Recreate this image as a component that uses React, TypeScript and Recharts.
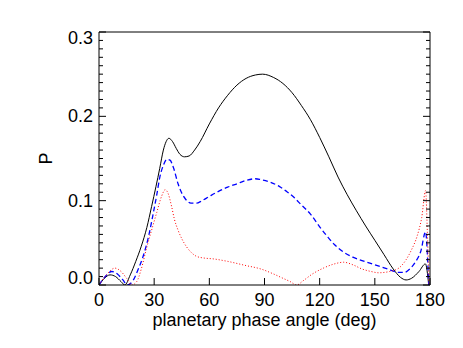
import { LineChart, Line, XAxis, YAxis } from "recharts";

// phase angle (deg) and polarisation P
const blackAngle = [0, 3, 6, 9, 12, 14, 17, 20, 23, 26, 28.6, 31, 33, 35, 36.5, 38, 40, 42, 44, 46.5, 49, 52, 55, 60, 65, 70, 75, 80, 85, 89, 95, 100, 105, 110, 115, 120, 125, 130, 135, 140, 145, 150, 155, 160, 164, 167, 170, 174, 177.5, 179.3];
const blackP = [0, 0.008, 0.012, 0.01, 0.004, 0, 0.012, 0.028, 0.046, 0.068, 0.093, 0.117, 0.138, 0.16, 0.17, 0.174, 0.17, 0.162, 0.155, 0.152, 0.153, 0.16, 0.17, 0.191, 0.21, 0.225, 0.237, 0.245, 0.249, 0.25, 0.246, 0.239, 0.228, 0.213, 0.196, 0.175, 0.152, 0.128, 0.107, 0.088, 0.07, 0.053, 0.036, 0.019, 0.009, 0.006, 0.008, 0.016, 0.025, 0];

const blueAngle = [0, 3, 7, 10, 13, 15.4, 18.7, 21, 24, 27, 29.5, 31.5, 33, 35, 37, 38.6, 40.5, 43, 45, 47, 50, 53, 56, 60, 65, 70, 75, 80, 85, 88, 93, 98, 102, 106, 110, 115, 120, 124, 128, 133, 138, 143, 150, 157, 163, 166, 169, 172, 175, 177.6, 178.6, 179.3];
const blueP = [0, 0.009, 0.016, 0.013, 0.006, 0, 0.006, 0.017, 0.034, 0.058, 0.085, 0.108, 0.127, 0.142, 0.149, 0.148, 0.139, 0.12, 0.109, 0.102, 0.097, 0.097, 0.1, 0.105, 0.111, 0.116, 0.12, 0.124, 0.126, 0.125, 0.122, 0.117, 0.111, 0.104, 0.095, 0.084, 0.069, 0.058, 0.048, 0.039, 0.033, 0.029, 0.024, 0.019, 0.015, 0.015, 0.019, 0.027, 0.04, 0.063, 0.035, 0];

const redAngle = [0, 4, 8.7, 12, 15, 17.8, 20.5, 23, 26, 29, 31.4, 34, 36, 37.5, 39.5, 41, 43, 45, 47.7, 50, 53, 57, 62, 70, 80, 88, 95, 100, 104, 107.5, 111, 116, 122, 128, 133, 138, 143, 148, 152, 158, 163, 167, 170, 173, 175.5, 177.6, 178.6, 179.5];
const redP = [0, 0.012, 0.02, 0.016, 0.008, 0, 0.004, 0.019, 0.045, 0.068, 0.086, 0.105, 0.113, 0.109, 0.093, 0.078, 0.065, 0.055, 0.045, 0.039, 0.034, 0.032, 0.031, 0.028, 0.023, 0.019, 0.013, 0.008, 0.004, 0, 0.005, 0.013, 0.02, 0.025, 0.027, 0.024, 0.019, 0.016, 0.0145, 0.016, 0.02, 0.03, 0.042, 0.058, 0.08, 0.112, 0.06, 0];

const xTicks = [0, 30, 60, 90, 120, 150, 180];
const yTicks = [0, 0.01, 0.02, 0.03, 0.04, 0.05, 0.06, 0.07, 0.08, 0.09, 0.1, 0.11, 0.12, 0.13, 0.14, 0.15, 0.16, 0.17, 0.18, 0.19, 0.2, 0.21, 0.22, 0.23, 0.24, 0.25, 0.26, 0.27, 0.28, 0.29, 0.3];

const toRows = (a: number[], p: number[]) => a.map((angle, i) => ({ angle, p: p[i] }));
const blackData = toRows(blackAngle, blackP);
const blueData = toRows(blueAngle, blueP);
const redData = toRows(redAngle, redP);

const FONT = "'Liberation Sans', Arial, sans-serif";
const isMajor = (v: number) => Math.abs(v * 10 - Math.round(v * 10)) < 1e-6;

function BottomTick({ x, y, payload }: any) {
  return (
    <g>
      <line x1={x} y1={y} x2={x} y2={y - 7} stroke="#000" />
      <text x={x} y={y + 21} textAnchor="middle" fontSize={18} fontFamily={FONT} fill="#000">
        {payload.value}
      </text>
    </g>
  );
}

function TopTick({ x, y }: any) {
  return <line x1={x} y1={y} x2={x} y2={y + 7} stroke="#000" />;
}

function LeftTick({ x, y, payload }: any) {
  const v = payload.value;
  if (!isMajor(v)) return <line x1={x} y1={y} x2={x + 4} y2={y} stroke="#000" />;
  // end labels are nudged inside the frame, like the original
  const shift = v === 0 ? -7 : v === 0.3 ? 6 : 0;
  return (
    <g>
      <line x1={x} y1={y} x2={x + 7} y2={y} stroke="#000" />
      <text x={x - 6} y={y + 6 + shift} textAnchor="end" fontSize={18} fontFamily={FONT} fill="#000">
        {v.toFixed(1)}
      </text>
    </g>
  );
}

function RightTick({ x, y, payload }: any) {
  const len = isMajor(payload.value) ? 7 : 4;
  return <line x1={x} y1={y} x2={x - len} y2={y} stroke="#000" />;
}

function YTitle({ viewBox }: any) {
  const cx = viewBox.x + 52;
  const cy = viewBox.y + viewBox.height / 2;
  return (
    <text x={cx} y={cy} transform={`rotate(-90 ${cx} ${cy})`} textAnchor="middle" fontSize={18} fontFamily={FONT} fill="#000">
      P
    </text>
  );
}

export default function App() {
  return (
    <div style={{ position: "absolute", left: 0, top: 0, background: "#fff" }}>
      <LineChart width={463} height={348} margin={{ top: 0, right: 0, bottom: 0, left: 0 }}>
        <XAxis
          dataKey="angle"
          type="number"
          domain={[0, 180]}
          ticks={xTicks}
          interval={0}
          height={63}
          tickSize={0}
          tickMargin={0}
          tickLine={false}
          axisLine={{ stroke: "#000" }}
          tick={BottomTick}
          allowDataOverflow
          label={{ value: "planetary phase angle (deg)", position: "insideBottom", offset: 22, fontSize: 18, fontFamily: FONT, fill: "#000" }}
        />
        <XAxis
          xAxisId="top"
          orientation="top"
          type="number"
          domain={[0, 180]}
          ticks={xTicks}
          interval={0}
          height={32}
          tickSize={0}
          tickMargin={0}
          tickLine={false}
          axisLine={{ stroke: "#000" }}
          tick={TopTick}
          allowDataOverflow
        />
        <YAxis
          type="number"
          domain={[0, 0.3]}
          ticks={yTicks}
          interval={0}
          width={99}
          tickSize={0}
          tickMargin={0}
          tickLine={false}
          axisLine={{ stroke: "#000" }}
          tick={LeftTick}
          allowDataOverflow
          label={<YTitle />}
        />
        <YAxis
          yAxisId="right"
          orientation="right"
          type="number"
          domain={[0, 0.3]}
          ticks={yTicks}
          interval={0}
          width={33}
          tickSize={0}
          tickMargin={0}
          tickLine={false}
          axisLine={{ stroke: "#000" }}
          tick={RightTick}
          allowDataOverflow
        />
        <Line data={blackData} dataKey="p" type="monotone" stroke="#000" strokeWidth={1} dot={false} isAnimationActive={false} />
        <Line data={blueData} dataKey="p" type="monotone" stroke="#0000ff" strokeWidth={1.3} strokeDasharray="5 3" dot={false} isAnimationActive={false} />
        <Line data={redData} dataKey="p" type="monotone" stroke="#ff0000" strokeWidth={1} strokeDasharray="1 2" dot={false} isAnimationActive={false} />
      </LineChart>
    </div>
  );
}
